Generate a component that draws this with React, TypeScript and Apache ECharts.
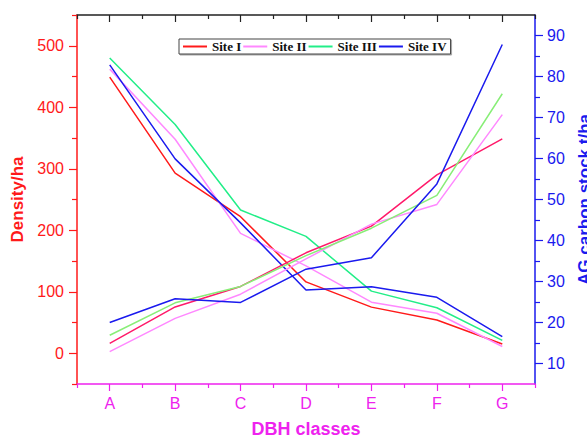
import React, { useEffect, useRef } from "react";
import * as echarts from "echarts";

const categories = ["A", "B", "C", "D", "E", "F", "G"];
const siteNames = ["Site I", "Site II", "Site III", "Site IV"];

const densitySiteI = [449, 293, 222, 116, 75, 54, 15];
const densitySiteII = [462, 348, 195, 142, 83, 65, 11];
const densitySiteIII = [480, 372, 233, 190, 101, 74, 21];
const densitySiteIV = [469, 316, 212, 103, 108, 91, 27];

const carbonSiteI = [14.9, 23.8, 28.8, 37.0, 43.5, 56.0, 64.8];
const carbonSiteII = [12.9, 21.0, 26.9, 35.5, 44.0, 48.8, 70.7];
const carbonSiteIII = [16.9, 24.8, 28.8, 36.3, 43.0, 51.0, 75.8];
const carbonSiteIV = [20.0, 25.8, 24.9, 33.0, 35.8, 53.8, 87.8];

const densityMajorTicks = [0, 100, 200, 300, 400, 500];
const densityMinorTicks = [-50, 50, 150, 250, 350, 450, 550];
const carbonMajorTicks = [10, 20, 30, 40, 50, 60, 70, 80, 90];
const carbonMinorTicks = [15, 25, 35, 45, 55, 65, 75, 85];

const densityColors = ["#ff1a1a", "#ff88ff", "#22ee88", "#1a1aee"];
const carbonColors = ["#ff1a6a", "#ff88ff", "#88ee77", "#1a1aee"];

export default function App() {
  const ref = useRef<HTMLDivElement>(null);
  useEffect(() => {
    if (!ref.current) return;
    const chart = echarts.init(ref.current, undefined, { renderer: "svg" });
    const sans = "Liberation Sans, Arial, sans-serif";
    const density = [densitySiteI, densitySiteII, densitySiteIII, densitySiteIV];
    const carbon = [carbonSiteI, carbonSiteII, carbonSiteIII, carbonSiteIV];
    const series: any[] = [];
    density.forEach((d, i) => {
      series.push({
        name: siteNames[i],
        type: "line",
        data: d,
        xAxisIndex: 0,
        yAxisIndex: 0,
        symbol: "none",
        color: densityColors[i],
        lineStyle: { width: 1.5, color: densityColors[i] },
      });
    });
    carbon.forEach((d, i) => {
      series.push({
        name: siteNames[i],
        type: "line",
        data: d,
        xAxisIndex: 0,
        yAxisIndex: 1,
        symbol: "none",
        color: carbonColors[i],
        lineStyle: { width: 1.5, color: carbonColors[i] },
      });
    });
    const catAxis = (extra: any) => ({
      type: "category",
      data: categories,
      boundaryGap: true,
      ...extra,
    });
    chart.setOption({
      animation: false,
      grid: { left: 77, right: 52, top: 15, bottom: 56, outerBoundsMode: "none", containLabel: false },
      legend: {
        data: siteNames,
        left: 179,
        top: 39,
        padding: [1, 4, 1, 4],
        itemGap: 2,
        itemWidth: 24,
        itemHeight: 2,
        icon: "rect",
        borderColor: "#444",
        borderWidth: 1,
        backgroundColor: "#fff",
        shadowColor: "rgba(0,0,0,0.35)",
        shadowOffsetX: 1,
        shadowOffsetY: 1,
        shadowBlur: 1,
        textStyle: {
          fontFamily: "Liberation Serif, Times New Roman, serif",
          fontWeight: "bold",
          fontSize: 13,
          color: "#111",
        },
      },
      xAxis: [
        catAxis({
          position: "bottom",
          name: "DBH classes",
          nameLocation: "middle",
          nameGap: 36,
          nameTextStyle: { color: "#ee22ee", fontWeight: "bold", fontSize: 18, fontFamily: sans },
          axisLine: { show: true, onZero: false, lineStyle: { color: "#ee22ee", width: 1.5 } },
          axisTick: { show: true, alignWithLabel: true, length: 7, lineStyle: { color: "#ee22ee", width: 1.2 } },
          axisLabel: { color: "#ee22ee", fontSize: 16, fontFamily: sans, margin: 11 },
        }),
        catAxis({
          position: "bottom",
          axisLine: { show: false, onZero: false },
          axisTick: { show: true, alignWithLabel: false, length: 4, lineStyle: { color: "#ee22ee", width: 1.2 } },
          axisLabel: { show: false },
        }),
        catAxis({
          position: "top",
          axisLine: { show: true, onZero: false, lineStyle: { color: "#222", width: 1.5 } },
          axisTick: { show: true, alignWithLabel: true, inside: true, length: 7, lineStyle: { color: "#222", width: 1.2 } },
          axisLabel: { show: false },
        }),
        catAxis({
          position: "top",
          axisLine: { show: false, onZero: false },
          axisTick: { show: true, alignWithLabel: false, inside: true, length: 4, lineStyle: { color: "#222", width: 1.2 } },
          axisLabel: { show: false },
        }),
      ],
      yAxis: [
        {
          type: "value",
          position: "left",
          min: -50,
          max: 550,
          interval: 50,
          splitLine: { show: false },
          name: "Density/ha",
          nameLocation: "middle",
          nameGap: 48,
          nameTextStyle: { color: "#ff1a1a", fontWeight: "bold", fontSize: 17, fontFamily: sans },
          axisLine: { show: true, onZero: false, lineStyle: { color: "#ff1a1a", width: 1.5 } },
          axisTick: { show: true, length: 8, customValues: densityMajorTicks, lineStyle: { color: "#ff1a1a", width: 1.2 } },
          axisLabel: { color: "#ff1a1a", fontSize: 16, fontFamily: sans, margin: 13, customValues: densityMajorTicks },
        },
        {
          type: "value",
          position: "right",
          min: 5,
          max: 95,
          interval: 5,
          splitLine: { show: false },
          name: "AG carbon stock t/ha",
          nameLocation: "middle",
          nameGap: 33,
          nameRotate: 90,
          nameTextStyle: { color: "#1a1aee", fontWeight: "bold", fontSize: 17, fontFamily: sans },
          axisLine: { show: true, onZero: false, lineStyle: { color: "#1a1aee", width: 1.5 } },
          axisTick: { show: true, length: 8, customValues: carbonMajorTicks, lineStyle: { color: "#1a1aee", width: 1.2 } },
          axisLabel: { color: "#1a1aee", fontSize: 16, fontFamily: sans, margin: 12, customValues: carbonMajorTicks },
        },
        {
          type: "value",
          position: "left",
          min: -50,
          max: 550,
          interval: 50,
          splitLine: { show: false },
          axisLine: { show: false, onZero: false },
          axisTick: { show: true, length: 5, customValues: densityMinorTicks, lineStyle: { color: "#ff1a1a", width: 1.2 } },
          axisLabel: { show: false },
        },
        {
          type: "value",
          position: "right",
          min: 5,
          max: 95,
          interval: 5,
          splitLine: { show: false },
          axisLine: { show: false, onZero: false },
          axisTick: { show: true, length: 5, customValues: carbonMinorTicks, lineStyle: { color: "#1a1aee", width: 1.2 } },
          axisLabel: { show: false },
        },
      ],
      series,
    });
    return () => chart.dispose();
  }, []);
  return (
    <div
      ref={ref}
      style={{ position: "fixed", left: 0, top: 0, width: 587, height: 440, background: "#fff" }}
    />
  );
}
